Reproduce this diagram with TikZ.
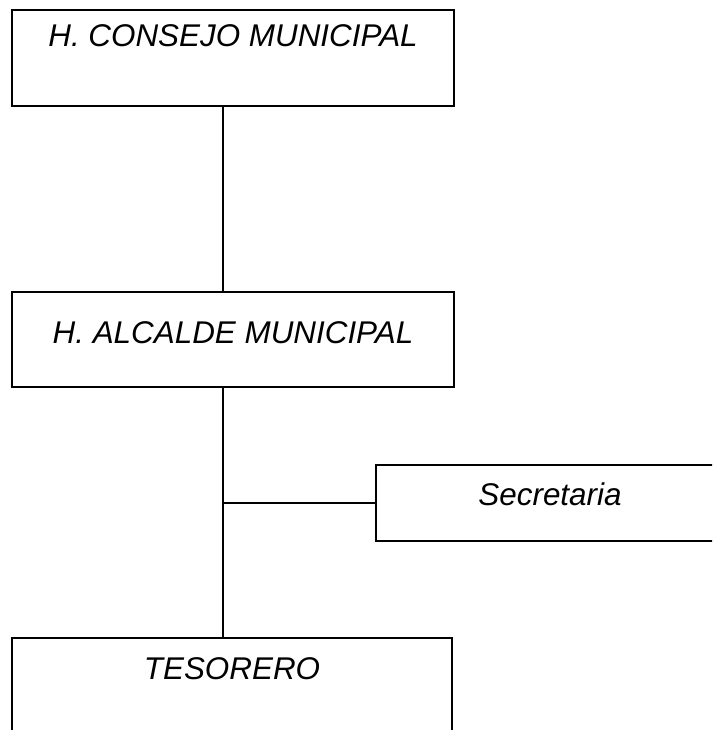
\documentclass[tikz,border=0pt]{standalone}
\usepackage{fontspec}
\setmainfont{Liberation Sans}
\begin{document}
\begin{tikzpicture}[x=1pt,y=-1pt,
  orgbox/.style={draw=black,line width=1.8pt,rectangle,inner sep=0pt,
    font=\fontsize{31.4}{34}\selectfont\itshape,text height=20pt},
  conn/.style={draw=black,line width=1.8pt}]
\clip (0,0) rectangle (712,730);
\fill[white] (0,0) rectangle (712,730);
\node[orgbox,minimum width=442pt,minimum height=96pt,text depth=42pt] (c) at (233,58) {H. CONSEJO MUNICIPAL};
\node[orgbox,minimum width=442pt,minimum height=95pt,text depth=13pt] (a) at (233,339.5) {H. ALCALDE MUNICIPAL};
\node[orgbox,minimum width=348pt,minimum height=76pt,text depth=16pt] (s) at (550,503) {Secretaria};
\node[orgbox,minimum width=440pt,minimum height=96pt,text depth=34pt] (t) at (232,686) {TESORERO};
\coordinate (spine) at (223,0);
\draw[conn] (c.south -| spine) -- (a.north -| spine);
\draw[conn] (a.south -| spine) -- (t.north -| spine);
\draw[conn] (s.west) -- (s.west -| spine);
\end{tikzpicture}
\end{document}
